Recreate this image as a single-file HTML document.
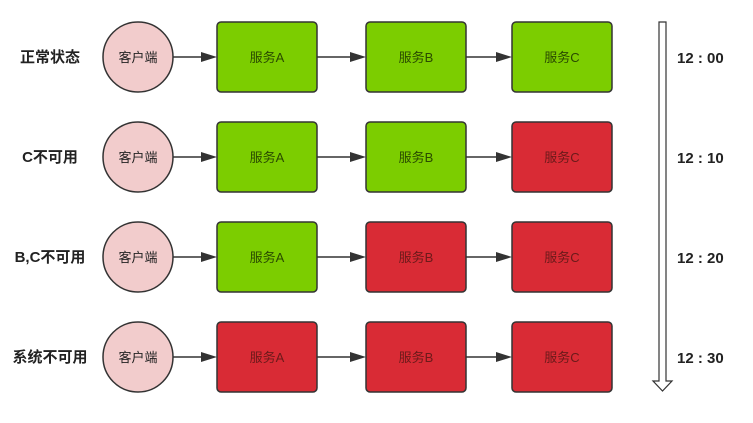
<!DOCTYPE html>
<html><head><meta charset="utf-8"><style>body{margin:0;background:#fff}</style></head><body>
<svg width="753" height="418" xmlns="http://www.w3.org/2000/svg" font-family="Liberation Sans, Noto Sans CJK SC, sans-serif">
<defs>
<g id="arr"><path d="M-16,-5 L0,0 L-16,5 Z" fill="#333"/></g>
</defs>
<g stroke="#333" stroke-width="1.5">
<line x1="173" y1="57" x2="203" y2="57"/><line x1="316" y1="57" x2="352" y2="57"/><line x1="466" y1="57" x2="498" y2="57"/>
<line x1="173" y1="157" x2="203" y2="157"/><line x1="316" y1="157" x2="352" y2="157"/><line x1="466" y1="157" x2="498" y2="157"/>
<line x1="173" y1="257" x2="203" y2="257"/><line x1="316" y1="257" x2="352" y2="257"/><line x1="466" y1="257" x2="498" y2="257"/>
<line x1="173" y1="357" x2="203" y2="357"/><line x1="316" y1="357" x2="352" y2="357"/><line x1="466" y1="357" x2="498" y2="357"/>
</g>
<use href="#arr" x="217" y="57"/><use href="#arr" x="366" y="57"/><use href="#arr" x="512" y="57"/>
<use href="#arr" x="217" y="157"/><use href="#arr" x="366" y="157"/><use href="#arr" x="512" y="157"/>
<use href="#arr" x="217" y="257"/><use href="#arr" x="366" y="257"/><use href="#arr" x="512" y="257"/>
<use href="#arr" x="217" y="357"/><use href="#arr" x="366" y="357"/><use href="#arr" x="512" y="357"/>

<g fill="#f2cccc" stroke="#333" stroke-width="1.5">
<circle cx="138" cy="57" r="35"/><circle cx="138" cy="157" r="35"/><circle cx="138" cy="257" r="35"/><circle cx="138" cy="357" r="35"/>
</g>
<g stroke="#333" stroke-width="1.5">
<rect x="217" y="22" width="100" height="70" rx="4" fill="#7ccd00"/>
<rect x="366" y="22" width="100" height="70" rx="4" fill="#7ccd00"/>
<rect x="512" y="22" width="100" height="70" rx="4" fill="#7ccd00"/>
<rect x="217" y="122" width="100" height="70" rx="4" fill="#7ccd00"/>
<rect x="366" y="122" width="100" height="70" rx="4" fill="#7ccd00"/>
<rect x="512" y="122" width="100" height="70" rx="4" fill="#d92b35"/>
<rect x="217" y="222" width="100" height="70" rx="4" fill="#7ccd00"/>
<rect x="366" y="222" width="100" height="70" rx="4" fill="#d92b35"/>
<rect x="512" y="222" width="100" height="70" rx="4" fill="#d92b35"/>
<rect x="217" y="322" width="100" height="70" rx="4" fill="#d92b35"/>
<rect x="366" y="322" width="100" height="70" rx="4" fill="#d92b35"/>
<rect x="512" y="322" width="100" height="70" rx="4" fill="#d92b35"/>
</g>
<g font-size="15" font-weight="bold" text-anchor="middle" fill="#222">
<text x="50" y="62">正常状态</text><text x="50" y="162">C不可用</text><text x="50" y="262">B,C不可用</text><text x="50" y="362">系统不可用</text>
</g>
<g font-size="13" text-anchor="middle" fill="#222">
<text x="138" y="62">客户端</text><text x="138" y="162">客户端</text><text x="138" y="262">客户端</text><text x="138" y="362">客户端</text>
</g>
<g font-size="13" text-anchor="middle">
<text x="267" y="62" fill="#2a4a00">服务A</text><text x="416" y="62" fill="#2a4a00">服务B</text><text x="562" y="62" fill="#2a4a00">服务C</text>
<text x="267" y="162" fill="#2a4a00">服务A</text><text x="416" y="162" fill="#2a4a00">服务B</text><text x="562" y="162" fill="#6b1a1a">服务C</text>
<text x="267" y="262" fill="#2a4a00">服务A</text><text x="416" y="262" fill="#6b1a1a">服务B</text><text x="562" y="262" fill="#6b1a1a">服务C</text>
<text x="267" y="362" fill="#6b1a1a">服务A</text><text x="416" y="362" fill="#6b1a1a">服务B</text><text x="562" y="362" fill="#6b1a1a">服务C</text>
</g>
<g font-size="15" font-weight="bold" fill="#222">
<text x="677" y="63">12 : 00</text><text x="677" y="163">12 : 10</text><text x="677" y="263">12 : 20</text><text x="677" y="363">12 : 30</text>
</g>
<path d="M659,22 L666,22 L666,381 L672,381 L662.5,391 L653,381 L659,381 Z" fill="#fff" stroke="#333" stroke-width="1.2"/>
</svg>
</body></html>
